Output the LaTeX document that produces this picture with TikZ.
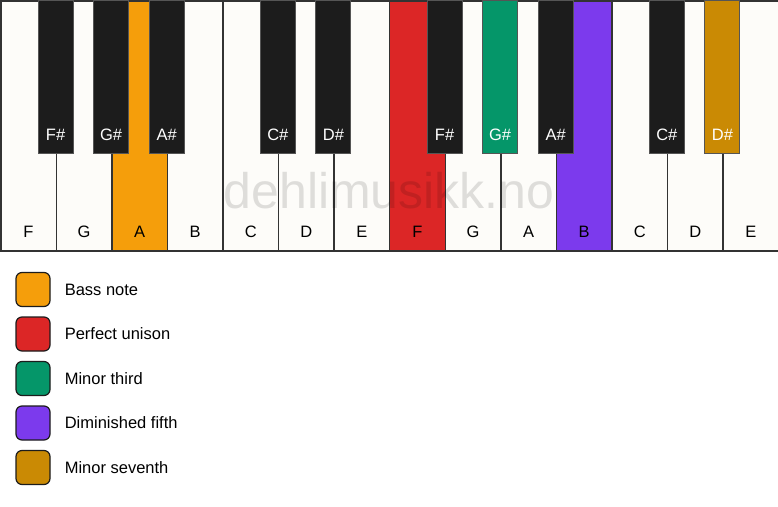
\documentclass[tikz,border=0pt]{standalone}
\usepackage{fontspec}
\setmainfont{Liberation Sans}
\usetikzlibrary{positioning}

\definecolor{ivory}{HTML}{FDFCF9}
\definecolor{keyblack}{HTML}{1C1C1C}
\definecolor{keyline}{HTML}{333333}
\definecolor{blackline}{HTML}{555555}
\definecolor{bassnote}{HTML}{F59E0B}
\definecolor{unison}{HTML}{DC2626}
\definecolor{minthird}{HTML}{059669}
\definecolor{dimfifth}{HTML}{7C3AED}
\definecolor{minseventh}{HTML}{CA8A04}

\begin{document}
\begin{tikzpicture}[
  x=1pt, y=1pt,
  whitekey/.style={draw=keyline, line width=1.5pt, minimum width=55.57pt, minimum height=250pt, inner sep=0pt, anchor=north west},
  blackkey/.style={draw=blackline, line width=1pt, minimum width=35pt, minimum height=153pt, inner sep=0pt, anchor=north},
  keyname/.style={anchor=base, yshift=14pt, font=\fontsize{16.5}{19}\selectfont},
  swatch/.style={draw=keyblack, line width=1.2pt, rounded corners=6pt, minimum size=34pt, inner sep=0pt},
  legendtext/.style={font=\fontsize{16.5}{19}\selectfont, inner sep=0pt},
  watermark/.style={anchor=base, text=black, text opacity=0.12, font=\fontsize{50}{58}\selectfont}
]

% Canvas
\useasboundingbox[fill=white] (0,0) rectangle (778,-506);

% White keys
\foreach \i/\n/\col in {0/F/ivory, 1/G/ivory, 2/A/bassnote, 3/B/ivory, 4/C/ivory, 5/D/ivory, 6/E/ivory,
                        7/F/unison, 8/G/ivory, 9/A/ivory, 10/B/dimfifth, 11/C/ivory, 12/D/ivory, 13/E/ivory}
  \node[whitekey, fill=\col, label={[keyname]south:\n}] (w\i) at (\i*55.57, 0) {};

% Black keys
\foreach \k/\n/\col in {1/F/keyblack, 2/G/keyblack, 3/A/keyblack, 5/C/keyblack, 6/D/keyblack,
                        8/F/keyblack, 9/G/minthird, 10/A/keyblack, 12/C/keyblack, 13/D/minseventh}
  \node[blackkey, fill=\col, label={[keyname, text=white]south:\n\#}] (b\k) at (\k*55.57, 0) {};

% Watermark
\node[watermark] (mark) at (389,-208) {dehlimusikk.no};

% Legend
\node[swatch, fill=bassnote] (sw1) at (33,-289.5) {};
\node[legendtext, right=14pt of sw1] (lg1) {Bass note};

\node[swatch, fill=unison] (sw2) at (33,-334) {};
\node[legendtext, right=14pt of sw2] (lg2) {Perfect unison};

\node[swatch, fill=minthird] (sw3) at (33,-378.5) {};
\node[legendtext, right=14pt of sw3] (lg3) {Minor third};

\node[swatch, fill=dimfifth] (sw4) at (33,-423) {};
\node[legendtext, right=14pt of sw4] (lg4) {Diminished fifth};

\node[swatch, fill=minseventh] (sw5) at (33,-467.5) {};
\node[legendtext, right=14pt of sw5] (lg5) {Minor seventh};

\end{tikzpicture}
\end{document}
